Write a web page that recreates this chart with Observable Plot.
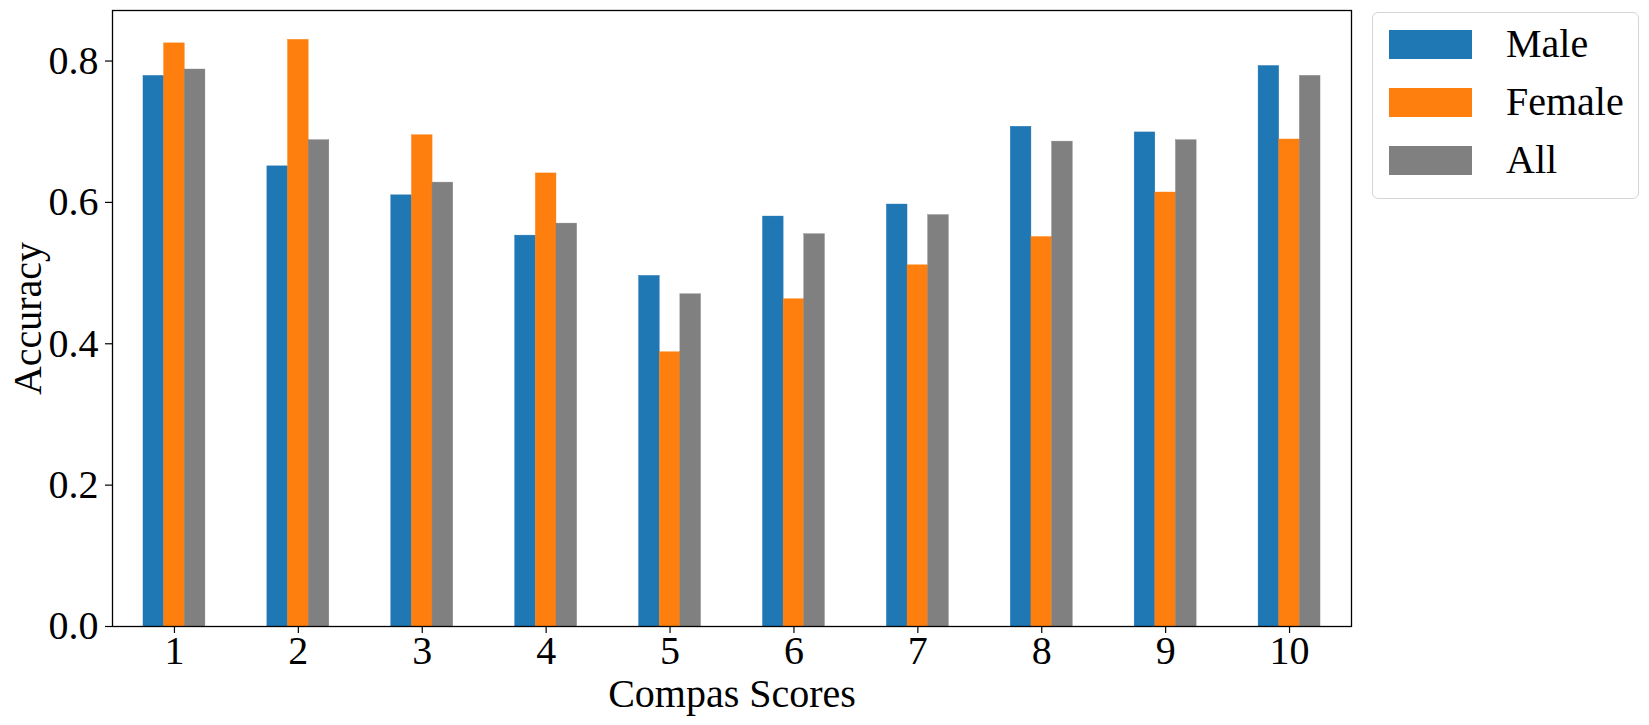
<!DOCTYPE html>
<html>
<head>
<meta charset="utf-8">
<script src="https://cdn.jsdelivr.net/npm/d3@7"></script>
<script src="https://cdn.jsdelivr.net/npm/@observablehq/plot@0.6"></script>
<style>
  html, body { margin: 0; padding: 0; background: #fff; }
  #wrap { position: relative; width: 1649px; height: 725px; font-family: "Liberation Serif", serif; }
  #legend { position: absolute; left: 1372px; top: 12px; width: 267px; height: 187px; box-sizing: border-box;
            border: 1.5px solid #d6d6d6; border-radius: 6px; padding-top: 2px; background: #fff; }
  .row { height: 58px; display: flex; align-items: center; }
  .sw { width: 83px; height: 29px; margin-left: 16px; margin-right: 34px; flex: none; }
  .lab { font-size: 40px; color: #000; line-height: 1; }
</style>
</head>
<body>
<div id="wrap">
  <div id="chart"></div>
  <div id="legend"></div>
</div>
<script>
const categories = [1, 2, 3, 4, 5, 6, 7, 8, 9, 10];
const seriesNames = ["Male", "Female", "All"];
const maleValues   = [0.779, 0.651, 0.610, 0.553, 0.496, 0.580, 0.597, 0.707, 0.699, 0.793];
const femaleValues = [0.825, 0.830, 0.695, 0.641, 0.388, 0.463, 0.511, 0.551, 0.614, 0.689];
const allValues    = [0.788, 0.688, 0.628, 0.570, 0.470, 0.555, 0.582, 0.686, 0.688, 0.779];
const yTicks = [0, 0.2, 0.4, 0.6, 0.8];
const seriesColors = ["#1f77b4", "#ff7f0e", "#808080"];
const xLabel = "Compas Scores";
const yLabel = "Accuracy";

const valuesBySeries = [maleValues, femaleValues, allValues];
const groupWidth = 0.5;
const barW = groupWidth / seriesNames.length;
const rows = categories.flatMap((c, i) => seriesNames.map((s, k) => ({
  c, s, v: valuesBySeries[k][i],
  x1: c - groupWidth / 2 + k * barW,
  x2: c - groupWidth / 2 + (k + 1) * barW
})));
const yMax = d3.max(rows, d => d.v) * 1.05;

const FS = 40;
const chart = Plot.plot({
  width: 1649, height: 725,
  marginLeft: 112, marginRight: 298, marginTop: 10, marginBottom: 99,
  style: { fontFamily: "Liberation Serif, serif", color: "#000", background: "#fff" },
  x: { domain: [categories[0] - 0.5, categories[categories.length - 1] + 0.5] },
  y: { domain: [0, yMax] },
  color: { domain: seriesNames, range: seriesColors },
  marks: [
    Plot.rectY(rows, { x1: "x1", x2: "x2", y: "v", fill: "s", stroke: "s", strokeWidth: 0.4 }),
    Plot.axisX({ ticks: categories, tickFormat: d => String(d), tickSize: 7, tickPadding: 2,
                 fontSize: FS, label: null, strokeWidth: 1.2 }),
    Plot.axisY({ ticks: yTicks, tickFormat: d3.format(".1f"), tickSize: 7, tickPadding: 7,
                 fontSize: FS, label: null, strokeWidth: 1.2 }),
    Plot.frame({ stroke: "#000", strokeWidth: 1.3 }),
    Plot.text([xLabel], { frameAnchor: "bottom", text: d => d, dy: 68, fontSize: FS,
                          lineAnchor: "middle", textAnchor: "middle" }),
    Plot.text([yLabel], { frameAnchor: "left", text: d => d, dx: -84, rotate: -90, fontSize: FS,
                          lineAnchor: "middle", textAnchor: "middle" })
  ]
});
document.getElementById("chart").appendChild(chart);

const legend = document.getElementById("legend");
seriesNames.forEach((name, k) => {
  const row = document.createElement("div");
  row.className = "row";
  const sw = document.createElement("div");
  sw.className = "sw";
  sw.style.background = seriesColors[k];
  const lab = document.createElement("span");
  lab.className = "lab";
  lab.textContent = name;
  row.appendChild(sw);
  row.appendChild(lab);
  legend.appendChild(row);
});
</script>
</body>
</html>
